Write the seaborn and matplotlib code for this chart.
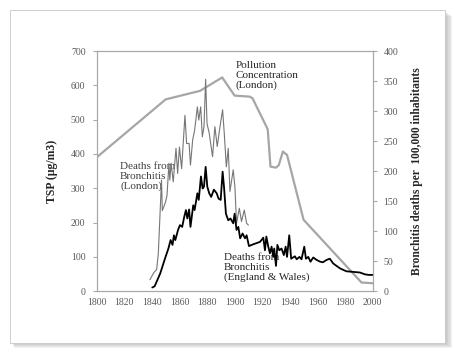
import numpy as np
import pandas as pd
import seaborn as sns
import matplotlib.pyplot as plt
from matplotlib.patches import Rectangle

# pollution concentration London (TSP, left axis)
poll_years = [1800, 1850, 1875, 1891, 1900, 1911, 1913, 1924, 1926, 1930, 1932, 1935, 1938, 1950, 1992, 2000]
poll_tsp = [390, 559, 584, 623, 570, 567, 562, 472, 363, 360, 367, 407, 397, 208, 25, 23]

# deaths from bronchitis London (right axis)
lon_years = [1838.6, 1841.5, 1843.5, 1844.7, 1847, 1847.6, 1850, 1851, 1852.4, 1853, 1854, 1855.5,
             1857.5, 1858.7, 1860, 1861.6, 1864, 1865.2, 1867, 1868, 1869.6, 1871, 1873, 1874,
             1875.4, 1876.6, 1877.8, 1879, 1880, 1881.6, 1884, 1885.7, 1887.4, 1889.4, 1891.3,
             1892.5, 1894, 1895.4, 1896.6, 1899, 1900.2, 1901.4, 1903.4, 1905, 1907, 1908.7, 1910]
lon_deaths = [19, 31, 36, 63, 185, 134, 149, 160, 213, 185, 213, 182,
              238, 196, 240, 204, 293, 246, 246, 210, 252, 268, 307, 285,
              307, 257, 274, 353, 279, 263, 224, 274, 241, 274, 302,
              263, 207, 238, 166, 202, 174, 113, 138, 116, 135, 113, 110]

# deaths from bronchitis England & Wales (right axis)
ew_years = [1840.3, 1842, 1846, 1849.5, 1852, 1853.6, 1855, 1856, 1857, 1859, 1860.4, 1862, 1863.5,
            1864.7, 1865.7, 1867, 1868, 1870, 1871, 1873, 1874, 1875.6, 1876.8, 1877.8, 1879, 1880.2,
            1881.6, 1883, 1885, 1887, 1888.4, 1889.9, 1891.3, 1892.3, 1893.7, 1895.4, 1897, 1899, 1900,
            1901.4, 1902.7, 1904, 1905.8, 1907.5, 1908.7, 1910.4, 1913.5, 1918.4, 1920.8, 1922, 1923,
            1924.4, 1925.6, 1926.8, 1928, 1928.7, 1930, 1931, 1932.4, 1934, 1935.7, 1937, 1938, 1939.6,
            1941, 1943.7, 1945, 1947, 1948.5, 1950.5, 1951.7, 1953.4, 1955, 1957, 1959.4, 1962, 1964,
            1966.7, 1969, 1971.5, 1976.3, 1981, 1986, 1990.8, 1994.4, 1997, 2000]
ew_deaths = [6, 8, 29, 54, 71, 85, 77, 93, 85, 102, 110, 107, 124,
             135, 121, 136, 107, 143, 135, 163, 152, 191, 171, 174, 207, 174,
             163, 157, 169, 163, 154, 152, 199, 174, 129, 118, 121, 113, 129,
             102, 107, 88, 96, 88, 93, 75, 78, 82, 89, 68, 91,
             74, 63, 74, 57, 71, 42, 77, 68, 71, 60, 74, 57, 93,
             54, 58, 53, 57, 53, 74, 54, 57, 49, 56, 52, 49, 48,
             52, 54, 46, 38, 33, 32, 31, 28, 27, 27]

poll = pd.DataFrame({'year': poll_years, 'tsp': poll_tsp})
lon = pd.DataFrame({'year': lon_years, 'deaths': lon_deaths})
ew = pd.DataFrame({'year': ew_years, 'deaths': ew_deaths})

sns.set_style('white')
plt.rcParams['font.family'] = ['Liberation Serif', 'DejaVu Serif']

fig = plt.figure(figsize=(4.56, 3.52), dpi=100)
fig.patch.set_facecolor('white')

# card with a soft shadow
for k in range(5, 0, -1):
    fig.patches.append(Rectangle(((12 + k * 0.4) / 456, (9 - k) / 352), (434 + k * 0.8) / 456, 332 / 352,
                                 transform=fig.transFigure, facecolor='#707070', alpha=0.09,
                                 edgecolor='none', zorder=-3))
fig.patches.append(Rectangle((10/456, 9.5/352), 435/456, 333/352, transform=fig.transFigure,
                             facecolor='white', edgecolor='#c8c8c8', lw=0.6, zorder=-2))

ax = fig.add_axes([0.212, 0.173, 0.605, 0.682])
ax.set_facecolor('none')
ax2 = ax.twinx()
ax2.set_facecolor('none')

sns.lineplot(data=poll, x='year', y='tsp', ax=ax, color='#a6a6a6', lw=1.6, zorder=2)
sns.lineplot(data=lon, x='year', y='deaths', ax=ax2, color='#767676', lw=0.8)
sns.lineplot(data=ew, x='year', y='deaths', ax=ax2, color='black', lw=1.3)

ax.set_xlim(1800, 2000)
ax.set_ylim(0, 700)
ax2.set_ylim(0, 400)
ax.set_xticks(range(1800, 2001, 20))
ax.set_yticks(range(0, 701, 100))
ax2.set_yticks(range(0, 401, 50))

for a in (ax, ax2):
    for s in a.spines.values():
        s.set_color('#a8a8a8')
        s.set_linewidth(0.8)
    a.tick_params(labelsize=7, colors='#a8a8a8', labelcolor='#595959', length=3, width=0.8)
ax.tick_params(axis='x', length=0, pad=5)
ax.tick_params(axis='y', left=True, pad=5)
ax2.tick_params(axis='y', right=True, pad=5)

ax.set_xlabel('')
ax.set_ylabel('TSP (μg/m3)', fontsize=8.5, fontweight='bold', labelpad=9)
ax2.set_ylabel('Bronchitis deaths per  100,000 inhabitants', fontsize=8.3, fontweight='bold', labelpad=9)

ax.text(1901, 670, 'Pollution\nConcentration\n(London)', fontsize=8, va='top', ha='left',
        linespacing=1.08, color='#262626')
ax.text(1817, 375, 'Deaths from\nBronchitis\n(London)', fontsize=8, va='top', ha='left',
        linespacing=1.08, color='#404040')
ax.text(1892.3, 110, 'Deaths from\nBronchitis\n(England & Wales)', fontsize=8, va='top', ha='left',
        linespacing=1.08, color='#262626')

fig.savefig('out.png', dpi=100)
